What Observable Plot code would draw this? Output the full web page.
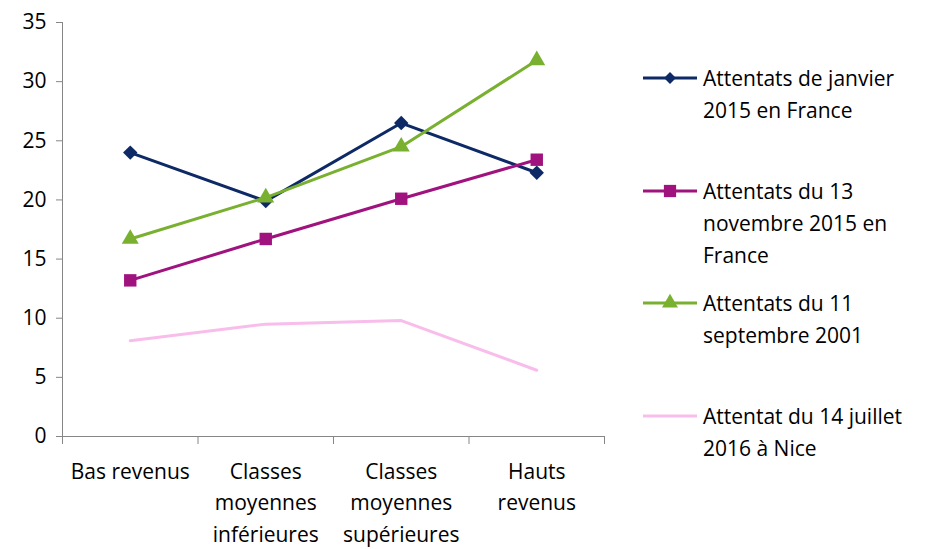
<!DOCTYPE html>
<html>
<head>
<meta charset="utf-8">
<script src="https://cdn.jsdelivr.net/npm/d3@7"></script>
<script src="https://cdn.jsdelivr.net/npm/@observablehq/plot@0.6"></script>
<style>
  html, body { margin: 0; padding: 0; background: #fff; }
  #wrap { position: relative; width: 928px; height: 549px; font-family: "Open Sans", Lato, sans-serif; color: #000; }
  #chart { position: absolute; left: 0; top: 0; }
  #legend { position: absolute; left: 643px; top: 62px; }
  .entry { position: absolute; left: 0; display: flex; align-items: flex-start; width: 285px; }
  .entry svg { flex: none; margin-top: 0; }
  .entry .lab { font-size: 21px; line-height: 32px; margin-left: 4px; white-space: pre; }
</style>
</head>
<body>
<div id="wrap"><div id="chart"></div><div id="legend"></div></div>
<script>
const categories = ["Bas revenus", "Classes moyennes inférieures", "Classes moyennes supérieures", "Hauts revenus"];
const tickLabels = ["Bas revenus", "Classes\nmoyennes\ninférieures", "Classes\nmoyennes\nsupérieures", "Hauts\nrevenus"];
const seriesNames = [
  "Attentats de janvier 2015 en France",
  "Attentats du 13 novembre 2015 en France",
  "Attentats du 11 septembre 2001",
  "Attentat du 14 juillet 2016 à Nice"
];
const legendLabels = [
  "Attentats de janvier\n2015 en France",
  "Attentats du 13\nnovembre 2015 en\nFrance",
  "Attentats du 11\nseptembre 2001",
  "Attentat du 14 juillet\n2016 à Nice"
];
const janvier2015 = [24.0, 19.9, 26.5, 22.3];
const novembre2015 = [13.2, 16.7, 20.1, 23.4];
const septembre2001 = [16.7, 20.2, 24.5, 31.8];
const nice2016 = [8.1, 9.5, 9.8, 5.6];
const yTicks = [0, 5, 10, 15, 20, 25, 30, 35];

const seriesValues = [janvier2015, novembre2015, septembre2001, nice2016];
const colors = ["#0E2A66", "#A0137F", "#7AB030", "#F9BDEB"];
const symbols = ["diamond2", "square", "triangle", null];

const rows = [];
seriesNames.forEach((s, k) => seriesValues[k].forEach((v, i) => rows.push({series: s, k, i, cat: categories[i], value: v})));

const marks = [
  Plot.ruleX([0], {stroke: "#868686"}),
  Plot.ruleY([0], {stroke: "#868686"}),
  Plot.axisY({ticks: yTicks, tickSize: 6, tickPadding: 10, stroke: "#868686", fill: "#000", label: null}),
  Plot.axisX({ticks: [0, 1, 2, 3, 4], tickSize: 8, tickFormat: () => "", stroke: "#868686", label: null}),
  Plot.axisX({ticks: [0.5, 1.5, 2.5, 3.5], tickSize: 0, tickPadding: 20, lineHeight: 1.5,
    tickFormat: d => tickLabels[Math.round(d - 0.5)], fill: "#000", label: null})
];
seriesNames.forEach((s, k) => {
  const data = rows.filter(r => r.k === k);
  marks.push(Plot.line(data, {x: d => d.i + 0.5, y: "value", stroke: colors[k], strokeWidth: 3}));
  if (symbols[k]) {
    marks.push(Plot.dot(data, {x: d => d.i + 0.5, y: "value", fill: colors[k], stroke: "none",
      symbol: symbols[k], r: k === 0 ? 6.5 : (k === 1 ? 7 : 6.3)}));
  }
});

const chart = Plot.plot({
  width: 620,
  height: 549,
  marginLeft: 62,
  marginRight: 16,
  marginTop: 22,
  marginBottom: 113,
  style: {fontSize: "21px", fontFamily: "'Open Sans', Lato, sans-serif", background: "#fff", color: "#000"},
  x: {type: "linear", domain: [0, 4], axis: null},
  y: {domain: [0, 35], axis: null},
  marks
});
document.getElementById("chart").appendChild(chart);

const legend = d3.select("#legend");
seriesNames.forEach((s, k) => {
  const e = legend.append("div").attr("class", "entry").style("top", (k * 112.7) + "px");
  const sv = e.append("svg").attr("width", 56).attr("height", 32);
  sv.append("line").attr("x1", 0).attr("x2", 54).attr("y1", 16).attr("y2", 16)
    .attr("stroke", colors[k]).attr("stroke-width", 3);
  if (symbols[k]) {
    const sym = {diamond2: d3.symbolDiamond2, square: d3.symbolSquare, triangle: d3.symbolTriangle}[symbols[k]];
    sv.append("path").attr("transform", "translate(27,16)")
      .attr("d", d3.symbol(sym, k === 0 ? 90 : (k === 1 ? 150 : 110))()).attr("fill", colors[k]);
  }
  e.append("div").attr("class", "lab").text(legendLabels[k]);
});
</script>
</body>
</html>
